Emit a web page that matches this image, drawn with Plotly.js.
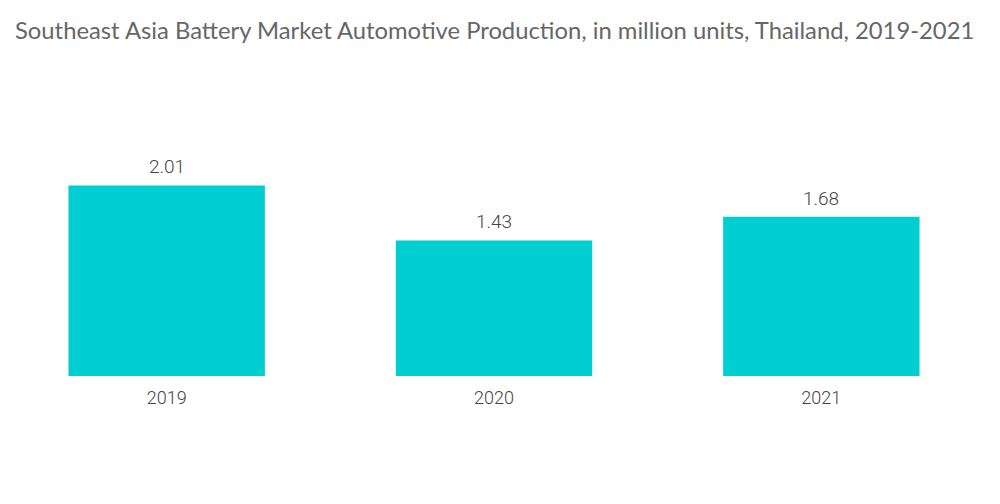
<!DOCTYPE html>
<html>
<head>
<meta charset="utf-8">
<script src="https://cdn.plot.ly/plotly-3.0.1.min.js"></script>
<style>html,body{margin:0;padding:0;background:#fff;}#chart{width:1000px;height:504px;}</style>
</head>
<body>
<div id="chart"></div>
<script>
const categories = ["2019", "2020", "2021"];
const values = [2.01, 1.43, 1.68];
const valueLabels = ["2.01", "1.43", "1.68"];

const trace = {
  type: "bar",
  x: categories,
  y: values,
  marker: {color: "#00CED1"},
  hoverinfo: "skip"
};

const labelAnnotations = categories.map((c, i) => ({
  x: i, y: values[i], xref: "x", yref: "y",
  text: valueLabels[i], showarrow: false,
  yanchor: "bottom", yshift: 5,
  font: {family: "Roboto, sans-serif", size: 19, color: "#444444", weight: 300}
}));

const layout = {
  width: 1000,
  height: 504,
  margin: {l: 3, r: 15, t: 138.5, b: 128},
  paper_bgcolor: "#ffffff",
  plot_bgcolor: "#ffffff",
  bargap: 0.4,
  showlegend: false,
  annotations: labelAnnotations,
  title: {
    text: "Southeast Asia Battery Market Automotive Production, in million units, Thailand, 2019-2021",
    x: 0.015, xanchor: "left", y: 0.94, yanchor: "middle",
    font: {family: "Lato, sans-serif", size: 23.8, color: "#666666"}
  },
  xaxis: {
    type: "category",
    range: [-0.5, 2.5],
    showgrid: false, zeroline: false, showline: false,
    ticks: "",
    ticklabelstandoff: 9,
    tickfont: {family: "Roboto, sans-serif", size: 18, color: "#444444", weight: 300}
  },
  yaxis: {
    range: [0, 2.5],
    visible: false,
    showgrid: false, zeroline: false
  }
};

Plotly.newPlot("chart", [trace], layout, {displayModeBar: false, staticPlot: true});
</script>
</body>
</html>
